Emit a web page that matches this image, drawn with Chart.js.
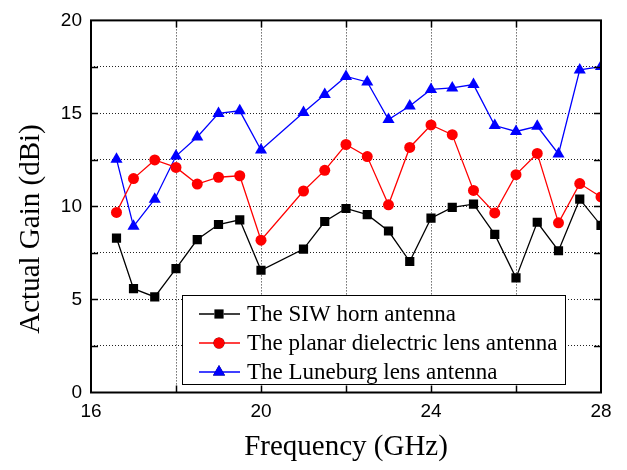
<!DOCTYPE html>
<html>
<head>
<meta charset="utf-8">
<script src="https://cdn.jsdelivr.net/npm/chart.js@4.4.1/dist/chart.umd.min.js"></script>
<style>
  body { margin: 0; background: #fff; }
  canvas { display: block; }
</style>
</head>
<body>
<canvas id="myChart" width="627" height="470"></canvas>
<script>
// values
const freq = [16.6, 17, 17.5, 18, 18.5, 19, 19.5, 20, 21, 21.5, 22, 22.5, 23, 23.5, 24, 24.5, 25, 25.5, 26, 26.5, 27, 27.5, 28];
const siwHorn = [8.3, 5.58, 5.14, 6.66, 8.22, 9.03, 9.28, 6.57, 7.71, 9.19, 9.89, 9.56, 8.68, 7.04, 9.37, 9.95, 10.12, 8.5, 6.16, 9.15, 7.62, 10.39, 8.98];
const planarLens = [9.68, 11.5, 12.5, 12.1, 11.2, 11.57, 11.65, 8.19, 10.83, 11.94, 13.33, 12.68, 10.09, 13.17, 14.38, 13.86, 10.86, 9.65, 11.71, 12.85, 9.12, 11.23, 10.51];
const luneburg = [12.54, 8.93, 10.39, 12.71, 13.73, 15.0, 15.14, 13.03, 15.05, 16.02, 16.99, 16.69, 14.67, 15.4, 16.29, 16.37, 16.55, 14.35, 14.03, 14.31, 12.82, 17.34, 17.52];
const seriesNames = ["The SIW horn antenna", "The planar dielectric lens antenna", "The Luneburg lens antenna"];
const xTickLabels = [16, 20, 24, 28];
const yTickLabels = [0, 5, 10, 15, 20];

const ctx = document.getElementById("myChart");

function toPoints(ys) {
  return freq.map((f, i) => ({ x: f, y: ys[i] }));
}

function makeSet(label, ys, color, style, radius) {
  return {
    label: label,
    data: toPoints(ys),
    borderColor: color,
    backgroundColor: color,
    borderWidth: 1.3,
    pointStyle: style,
    pointRadius: radius,
    pointHoverRadius: radius,
    pointBorderWidth: 0,
    pointBackgroundColor: color,
    tension: 0,
    clip: 0
  };
}

// frame, inward ticks, y title and the boxed legend
const extras = {
  id: "extras",
  afterDraw(chart) {
    const c = chart.ctx;
    const a = chart.chartArea;
    const xs = chart.scales.x;
    const ys = chart.scales.y;
    c.save();
    c.strokeStyle = "#000";
    c.lineWidth = 1.5;
    xs.ticks.forEach((t) => {
      if (t.value <= 16 || t.value >= 28) return;
      const px = Math.round(xs.getPixelForValue(t.value)) + 0.5;
      c.beginPath();
      c.moveTo(px, a.bottom); c.lineTo(px, a.bottom - 7);
      c.moveTo(px, a.top); c.lineTo(px, a.top + 7);
      c.stroke();
    });
    ys.ticks.forEach((t) => {
      if (t.value <= 0 || t.value >= 20) return;
      const py = Math.round(ys.getPixelForValue(t.value)) + 0.5;
      c.beginPath();
      c.moveTo(a.left, py); c.lineTo(a.left + 7, py);
      c.moveTo(a.right, py); c.lineTo(a.right - 7, py);
      c.stroke();
    });
    c.lineWidth = 2;
    c.strokeRect(a.left, a.top, a.right - a.left, a.bottom - a.top);

    // y axis title
    c.font = "29px 'Liberation Serif'";
    c.fillStyle = "#000";
    c.textAlign = "center";
    c.textBaseline = "middle";
    c.translate(31, 229);
    c.rotate(-Math.PI / 2);
    c.fillText("Actual Gain (dBi)", 0, 0);
    c.restore();

    // legend
    c.save();
    const bx = 182, by = 295, bw = 383, bh = 89;
    c.fillStyle = "#fff";
    c.fillRect(bx, by, bw, bh);
    c.strokeStyle = "#000";
    c.lineWidth = 1;
    c.strokeRect(bx + 0.5, by + 0.5, bw, bh);
    c.font = "23px 'Liberation Serif'";
    c.textAlign = "left";
    c.textBaseline = "middle";
    chart.data.datasets.forEach((ds, i) => {
      const y = 314 + i * 29;
      c.strokeStyle = ds.borderColor;
      c.lineWidth = 1.3;
      c.beginPath();
      c.moveTo(199, y); c.lineTo(240, y);
      c.stroke();
      Chart.helpers.drawPoint(c, {
        pointStyle: ds.pointStyle,
        radius: ds.pointRadius,
        borderWidth: 0,
        rotation: 0
      }, 219, y);
      c.fillStyle = ds.borderColor;
      c.fill();
      c.fillStyle = "#000";
      c.fillText(ds.label, 247, y + 1);
    });
    c.restore();
  }
};

new Chart(ctx, {
  type: "line",
  data: {
    datasets: [
      makeSet(seriesNames[0], siwHorn, "#000000", "rect", 6.5),
      makeSet(seriesNames[1], planarLens, "#ff0000", "circle", 5.5),
      makeSet(seriesNames[2], luneburg, "#0000ff", "triangle", 7)
    ]
  },
  options: {
    responsive: false,
    animation: false,
    layout: { padding: { top: 15, right: 26, left: 0, bottom: 0 } },
    plugins: {
      legend: { display: false },
      tooltip: { enabled: false }
    },
    scales: {
      x: {
        type: "linear",
        min: 16,
        max: 28,
        afterFit: (scale) => { scale.height = 77.5; },
        border: { display: false, dash: [1, 2] },
        grid: {
          drawTicks: false,
          lineWidth: 1,
          color: (c) => (c.tick.value === 16 || c.tick.value === 28) ? "rgba(0,0,0,0)" : "#222"
        },
        ticks: {
          stepSize: 2,
          autoSkip: false,
          maxRotation: 0,
          padding: 8,
          color: "#000",
          font: { family: "'Liberation Sans'", size: 19 },
          callback: (v) => xTickLabels.includes(v) ? String(v) : ""
        },
        title: {
          display: true,
          text: "Frequency (GHz)",
          color: "#000",
          font: { family: "'Liberation Serif'", size: 29 },
          padding: { top: 0, bottom: 5 }
        }
      },
      y: {
        min: 0,
        max: 20,
        afterFit: (scale) => { scale.width = 91; },
        border: { display: false, dash: [1, 2] },
        grid: {
          drawTicks: false,
          lineWidth: 1,
          color: (c) => (c.tick.value === 0 || c.tick.value === 20) ? "rgba(0,0,0,0)" : "#222"
        },
        ticks: {
          stepSize: 2.5,
          autoSkip: false,
          padding: 9,
          color: "#000",
          font: { family: "'Liberation Sans'", size: 19 },
          callback: (v) => yTickLabels.includes(v) ? String(v) : ""
        }
      }
    }
  },
  plugins: [extras]
});
</script>
</body>
</html>
